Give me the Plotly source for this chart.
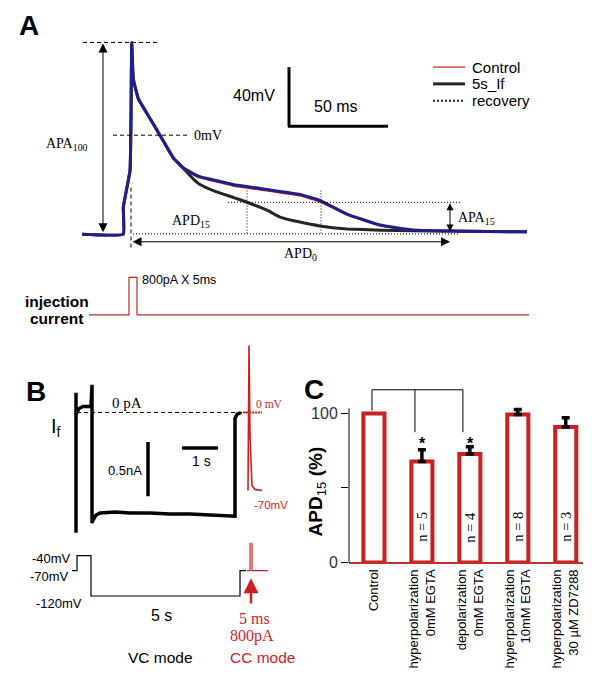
import plotly.graph_objects as go

W, H = 604, 680
SANS = "Liberation Sans, Arial, sans-serif"
SERIF = "Liberation Serif, Times New Roman, serif"
RED = "#cc1f1f"

def PX(x): return x / W
def PY(y): return 1 - y / H

# ---------------- Panel A data (ms, mV) ----------------
ap_time_ms = [-20.2, 0.15, 0.15, 3.47, 3.96, 4.31, 5.1, 7.57, 13.37, 19.16, 24.9, 29.85, 35.64,
              38.1, 54.5, 71.3, 87.6, 97.5, 110.9, 127.2, 143.6, 160.4, 200]
ap_recovery_mv = [-66.9, -66.9, -48.7, -24, 11.3, 62.7, 38, 24.7, 11.3, -2, -15.3, -22, -26.7,
                  -28, -33.3, -36.7, -40, -44, -53.3, -60.7, -64, -64.7, -65.3]
ap_control_mv = [-66.9, -66.9, -48.7, -24, 11.3, 62.7, 38, 24.7, 11.0, -2.4, -15.8, -22.6, -27.3,
                 -28.7, -34.1, -37.4, -40.8, -44.8, -53.8, -61, -64.1, -64.8, -65.3]
if_time_ms = [-20.2, 0.15, 0.15, 3.47, 3.96, 4.31, 5.1, 7.57, 13.37, 19.16, 24.9, 29.85, 35.64,
              38.1, 45.0, 54.5, 61.4, 71.3, 77.7, 87.6, 97.5, 110.9, 127.2, 143.6, 160.4, 200]
if_mv = [-66.9, -66.9, -48.7, -24, 11.3, 62.7, 38, 24.7, 11.3, -2, -15.3, -22.4, -30.7,
         -33.3, -37.6, -42, -45.3, -50.7, -55.3, -58.7, -61.3, -63.3, -64.2, -64.6, -64.8, -65.3]
inj_time_ms = [-16.8, 2.97, 2.97, 6.93, 6.93, 201]
inj_pa = [0, 0, 800, 800, 0, 0]

# ---------------- Panel B data ----------------
if_time_s = [-0.028, -0.028, -0.028, -0.028, 0.056, 0.167, 0.389, 0.417, 0.417, 0.444, 0.528, 0.639,
             1.056, 1.472, 2.028, 2.583, 3.139, 3.694, 4.111, 4.389, 4.389, 4.444, 4.556]
if_current_na = [-0.018, 0.182, -1.109, -0.018, 0.036, 0.055, 0.055, 0.255, -1.018, -0.991, -0.945, -0.927,
                 -0.918, -0.927, -0.927, -0.936, -0.936, -0.945, -0.955, -0.955, -0.055, -0.018, 0.0]
vc_time_s = [-0.139, 0, 0, 0.389, 0.389, 4.528, 4.528, 4.694]
vc_mv = [-70, -70, -40, -40, -120, -120, -70, -70]
stim_time_s = [4.722, 4.806, 4.806, 4.861, 4.861, 5.306]
stim_mv = [-70, -70, -8.8, -8.8, -70, -70]
cc_time_s = [4.75, 4.778, 4.806, 4.833, 4.861, 4.944, 5.139]
cc_mv = [-70, 60, -22, -55, -65.5, -69, -70]

# ---------------- Panel C data ----------------
categories = ["Control", "hyperpolarization<br>0mM EGTA", "depolarization<br>0mM EGTA",
              "hyperpolarization<br>10mM EGTA", "hyperpolarization<br>30 \u00b5M ZD7288"]
apd15_pct = [100, 67.7, 72.8, 99.3, 90.9]
sem_pct = [0, 8.0, 4.9, 3.3, 6.2]
n_cells = ["", "n = 5", "n = 4", "n = 8", "n = 3"]

# pixel -> data helpers for decorations
def tA(x): return (x - 123) / 2.02
def vA(y): return (137 - y) / 1.5
def pA(y): return (319 - y) / 0.0475
def tB(x): return (x - 77) / 36
def iB(y): return (418 - y) / 110
def vB(y): return -40 + (563 - y) / 0.5125
def cX(x): return -0.52 + (x - 349) / 48
def cY(y): return (570 - y) / 1.51

fig = go.Figure()
# Panel A traces
fig.add_trace(go.Scatter(x=if_time_ms, y=if_mv, mode="lines", line=dict(color="#262626", width=3, shape="spline", smoothing=0.3), xaxis="x", yaxis="y"))
fig.add_trace(go.Scatter(x=ap_time_ms, y=ap_control_mv, mode="lines", line=dict(color=RED, width=2, shape="spline", smoothing=0.3), xaxis="x", yaxis="y"))
fig.add_trace(go.Scatter(x=ap_time_ms, y=ap_recovery_mv, mode="lines", line=dict(color="#1f1f8c", width=3, shape="spline", smoothing=0.3), xaxis="x", yaxis="y"))
fig.add_trace(go.Scatter(x=inj_time_ms, y=inj_pa, mode="lines", line=dict(color="#b52a2a", width=1.2), xaxis="x", yaxis="y2"))
# Panel B traces
fig.add_trace(go.Scatter(x=if_time_s, y=if_current_na, mode="lines", line=dict(color="black", width=3.5), xaxis="x3", yaxis="y3"))
fig.add_trace(go.Scatter(x=cc_time_s, y=cc_mv, mode="lines", line=dict(color=RED, width=1.6), xaxis="x3", yaxis="y5"))
fig.add_trace(go.Scatter(x=vc_time_s, y=vc_mv, mode="lines", line=dict(color="black", width=1.2), xaxis="x3", yaxis="y4"))
fig.add_trace(go.Scatter(x=stim_time_s, y=stim_mv, mode="lines", line=dict(color=RED, width=1.2), xaxis="x3", yaxis="y4"))
# Panel C
fig.add_trace(go.Bar(x=categories, y=apd15_pct, width=0.44, marker=dict(color="white", line=dict(color=RED, width=4)), xaxis="x6", yaxis="y6"))
fig.add_trace(go.Scatter(x=categories[1:], y=apd15_pct[1:], mode="markers", marker=dict(opacity=0, size=1),
                         error_y=dict(type="data", symmetric=False, array=sem_pct[1:], arrayminus=[0] * 4,
                                      color="black", thickness=3.5, width=4),
                         xaxis="x6", yaxis="y6"))

def seg(xr, yr, x0, y0, x1, y1, color="black", width=1, dash="solid"):
    return dict(type="line", xref=xr, yref=yr, x0=x0, y0=y0, x1=x1, y1=y1,
                line=dict(color=color, width=width, dash=dash))

def txt(text, x, y, xr, yr, size, family=SANS, color="black", xanchor="center", yanchor="middle", angle=0):
    return dict(text=text, x=x, y=y, xref=xr, yref=yr, showarrow=False,
                font=dict(size=size, family=family, color=color),
                xanchor=xanchor, yanchor=yanchor, textangle=angle)

def arrow(xr, yr, hx, hy, tx, ty, color="black", width=1, size=1.8, side="end"):
    return dict(text="", x=hx, y=hy, ax=tx, ay=ty, xref=xr, yref=yr, axref=xr, ayref=yr,
                showarrow=True, arrowhead=2, startarrowhead=2, arrowsize=size, startarrowsize=size,
                arrowwidth=width, arrowcolor=color, arrowside=side, standoff=0, startstandoff=0)

DASH = "4px,3px"
DOT = "1px,2px"
shapes = [
    seg("x", "y", tA(83), vA(43), tA(157), vA(43), dash=DASH),
    seg("x", "y", tA(113), vA(137), tA(187), vA(137), dash=DASH),
    seg("x", "y", tA(131), vA(190), tA(131), vA(253), dash=DASH),
    seg("x", "y", tA(133), vA(237), tA(460), vA(237), dash=DOT),
    seg("x", "y", tA(247), vA(193), tA(247), vA(237), dash=DOT),
    seg("x", "y", tA(321), vA(193), tA(321), vA(237), dash=DOT),
    seg("x", "y", tA(228), vA(205), tA(460), vA(205), dash=DOT),
    seg("x", "y", tA(289), vA(68), tA(289), vA(128), width=3),
    seg("x", "y", tA(288), vA(128), tA(388), vA(128), width=3),
    seg("x", "y", tA(433), vA(68), tA(465), vA(68), color=RED, width=1.2),
    seg("x", "y", tA(433), vA(85), tA(465), vA(85), color="#262626", width=3),
    seg("x", "y", tA(433), vA(102), tA(465), vA(102), color="#1f1f8c", width=2, dash="2px,2px"),
    # Panel B
    seg("x3", "y3", tB(77), 0, tB(247), 0, dash=DASH),
    seg("x3", "y3", tB(148), iB(448), tB(148), iB(503), width=3.5),
    seg("x3", "y3", tB(182), iB(454), tB(218), iB(454), width=3.5),
    seg("x3", "y3", tB(243), 0, tB(262), 0, color=RED, width=2, dash="2px,1px"),
    # Panel C bracket and axis line
    seg("x6", "y6", cX(372), cY(395), cX(463), cY(395)),
    seg("x6", "y6", cX(372), cY(395), cX(372), cY(416)),
    seg("x6", "y6", cX(415), cY(395), cX(415), cY(438)),
    seg("x6", "y6", cX(463), cY(395), cX(463), cY(438)),
    seg("paper", "paper", PX(349), PY(570), PX(349), PY(414)),
]

ann = [
    txt("<b>A</b>", PX(29), PY(26), "paper", "paper", 28),
    txt("<b>B</b>", PX(36), PY(397), "paper", "paper", 28),
    txt("<b>C</b>", PX(314), PY(395), "paper", "paper", 28),
    # Panel A
    arrow("x", "y", tA(103), vA(44), tA(103), vA(237), side="end+start"),
    arrow("x", "y", tA(131), vA(237), tA(134), vA(237)),
    arrow("x", "y", tA(247), vA(237), tA(244), vA(237)),
    arrow("x", "y", tA(320), vA(237), tA(317), vA(237)),
    arrow("x", "y", tA(450), vA(245), tA(131), vA(245), side="end+start"),
    arrow("x", "y", tA(450), vA(206), tA(450), vA(236), side="end+start", size=1.4),
    txt("APA<sub>100</sub>", tA(67), vA(146), "x", "y", 14, SERIF),
    txt("0mV", tA(192), vA(137), "x", "y", 14, SERIF, xanchor="left"),
    txt("APD<sub>15</sub>", tA(191), vA(224), "x", "y", 14, SERIF),
    txt("APD<sub>0</sub>", tA(300), vA(258), "x", "y", 14, SERIF),
    txt("APA<sub>15</sub>", tA(456), vA(221), "x", "y", 14, SERIF, xanchor="left"),
    txt("40mV", tA(277), vA(97), "x", "y", 16, xanchor="right"),
    txt("50 ms", tA(336), vA(108), "x", "y", 16),
    txt("Control", tA(470), vA(68), "x", "y", 15, xanchor="left"),
    txt("5s_If", tA(470), vA(85), "x", "y", 15, xanchor="left"),
    txt("recovery", tA(470), vA(102), "x", "y", 15, xanchor="left"),
    txt("800pA X 5ms", tA(140), pA(284), "x", "y2", 12.5, xanchor="left"),
    txt("<b>injection</b>", tA(57), pA(306), "x", "y2", 15.5),
    txt("<b>current</b>", tA(56), pA(323), "x", "y2", 15.5),
    # Panel B
    txt("I<sub>f</sub>", tB(49), iB(433), "x3", "y3", 20, xanchor="left"),
    txt("0 pA", tB(127), iB(408), "x3", "y3", 15, SERIF),
    txt("0.5nA", tB(144), iB(477), "x3", "y3", 13, xanchor="right"),
    txt("1 s", tB(201), iB(467), "x3", "y3", 14),
    txt("0 mV", tB(254), iB(409), "x3", "y3", 11.5, SERIF, color=RED, xanchor="left"),
    txt("-70mV", tB(252), iB(512), "x3", "y3", 11.5, color=RED, xanchor="left"),
    txt("-40mV", tB(73), vB(566), "x3", "y4", 13, xanchor="right"),
    txt("-70mV", tB(71), vB(584), "x3", "y4", 13, xanchor="right"),
    txt("-120mV", tB(84), vB(612), "x3", "y4", 13, xanchor="right"),
    txt("5 s", tB(161), vB(624), "x3", "y4", 16),
    arrow("x3", "y4", tB(251), vB(586), tB(251), vB(613), color=RED, width=2.5, size=1.2),
    txt("5 ms", tB(254), vB(627), "x3", "y4", 16, SERIF, color=RED),
    txt("800pA", tB(252), vB(645), "x3", "y4", 16, SERIF, color=RED),
    txt("CC mode", tB(262), vB(666), "x3", "y4", 15.5, color=RED),
    txt("VC mode", tB(160), vB(666), "x3", "y4", 15.5),
    # Panel C
    txt("<b>APD</b><sub>15</sub><b> (%)</b>", PX(317), PY(498), "paper", "paper", 19, angle=-90),
]
for i in range(1, 5):
    ann.append(txt(n_cells[i], i, cY(534), "x6", "y6", 14.5, SERIF, angle=-90))
for i in (1, 2):
    ann.append(txt("<b>*</b>", i + 0.02, cY(449), "x6", "y6", 16))

hidden = dict(visible=False, showgrid=False, zeroline=False, fixedrange=True)
fig.update_layout(
    width=W, height=H, autosize=False, margin=dict(l=0, r=0, t=0, b=0),
    paper_bgcolor="white", plot_bgcolor="rgba(0,0,0,0)", showlegend=False,
    barmode="overlay",
    xaxis=dict(hidden, domain=[0, 1], range=[tA(0), tA(604)], anchor="y"),
    yaxis=dict(hidden, domain=[PY(270), 1], range=[vA(270), vA(0)], anchor="x"),
    yaxis2=dict(hidden, domain=[PY(340), PY(270)], range=[pA(340), pA(270)], anchor="x"),
    xaxis3=dict(hidden, domain=[0, PX(300)], range=[tB(0), tB(300)], anchor="y3"),
    yaxis3=dict(hidden, domain=[PY(550), PY(340)], range=[iB(550), iB(340)], anchor="x3"),
    yaxis5=dict(hidden, overlaying="y3", range=[(418 - 550) / 1.13, (418 - 340) / 1.13], anchor="x3"),
    yaxis4=dict(hidden, domain=[0, PY(550)], range=[vB(680), vB(550)], anchor="x3"),
    xaxis6=dict(domain=[PX(349), PX(583)], range=[-0.52, 4.36], anchor="y6", type="category",
                showline=True, linecolor="#c03030", linewidth=1.5, ticks="", tickangle=-90,
                tickfont=dict(size=13, family=SANS, color="black"), showgrid=False, zeroline=False,
                fixedrange=True),
    yaxis6=dict(domain=[PY(570), PY(380)], range=[0, cY(380)], anchor="x6", showline=False,
                tickvals=[0, 50, 100], ticktext=["0", "", "100"], ticks="outside", ticklen=7,
                tickcolor="black", tickfont=dict(size=16, family=SANS, color="#333"),
                showgrid=False, zeroline=False, fixedrange=True),
    shapes=shapes, annotations=ann,
)
post = ("document.documentElement.style.margin='0px';document.body.style.margin='0px';"
        "document.documentElement.style.overflow='hidden';document.body.style.overflow='hidden';")
fig.write_html("out.html", config={"displayModeBar": False, "responsive": False}, post_script=post)
